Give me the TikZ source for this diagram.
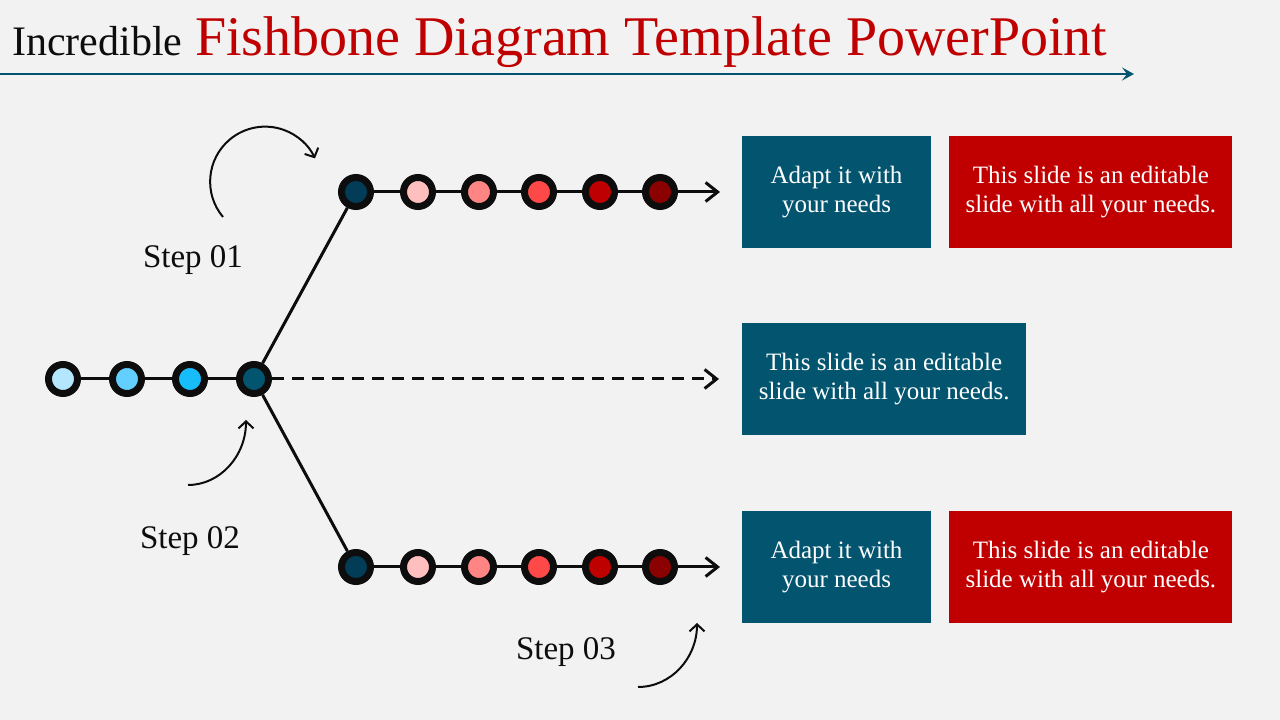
\documentclass[tikz,border=0pt]{standalone}
\usepackage{fontspec}
\setmainfont{Liberation Serif}
\usetikzlibrary{arrows.meta,positioning}

\definecolor{slidebg}{HTML}{F2F2F2}
\definecolor{inkblack}{HTML}{0D0D0D}
\definecolor{deepblue}{HTML}{02546F}
\definecolor{nightblue}{HTML}{023C57}
\definecolor{skyone}{HTML}{B4E6FD}
\definecolor{skytwo}{HTML}{63CFFF}
\definecolor{skythree}{HTML}{17BDFB}
\definecolor{slidered}{HTML}{C00000}
\definecolor{redone}{HTML}{FFBFBF}
\definecolor{redtwo}{HTML}{FF8585}
\definecolor{redthree}{HTML}{FF4848}
\definecolor{redfour}{HTML}{BF0000}
\definecolor{redfive}{HTML}{8B0000}

\begin{document}
\begin{tikzpicture}[x=1pt, y=1pt,
  bead/.style={circle, draw=inkblack, line width=7pt, minimum size=29pt, inner sep=0pt, fill=#1},
  bone/.style={inkblack, line width=3pt},
  boneend/.style={bone, -{Straight Barb[length=12pt,width=19pt]}},
  card/.style={fill=#1, text=white, align=center, minimum height=112pt, inner sep=0pt, font=\fontsize{25}{29}\selectfont},
  steplabel/.style={text=inkblack, font=\fontsize{33}{38}\selectfont},
  turn/.style={inkblack, line width=2pt, -{Straight Barb[length=7pt,width=15pt]}}]
  \useasboundingbox (0,0) rectangle (1280,720);
  \fill[slidebg] (0,0) rectangle (1280,720);

  % Title with underline arrow
  \node[anchor=base west, inner sep=0pt, font=\fontsize{42}{48}\selectfont, text=inkblack] (head) at (12,664) {Incredible};
  \node[anchor=base west, inner sep=0pt, font=\fontsize{56}{60}\selectfont, text=slidered] (title) at (195,664) {Fishbone Diagram Template PowerPoint};
  \coordinate (rulestart) at (0,646);
  \coordinate (ruleend) at (1134,646);
  \draw[deepblue, line width=2.5pt, -{Stealth[length=12pt,width=13pt,inset=5pt]}] (rulestart) -- (ruleend);

  % Spine: four beads on the left
  \node[bead=skyone] (l1) at (63,341) {};
  \node[bead=skytwo] (l2) at (127,341) {};
  \node[bead=skythree] (l3) at (190,341) {};
  \node[bead=deepblue] (l4) at (254,341) {};

  % Upper bone
  \node[bead=nightblue] (t1) at (356,528) {};
  \node[bead=redone] (t2) at (418,528) {};
  \node[bead=redtwo] (t3) at (479,528) {};
  \node[bead=redthree] (t4) at (539,528) {};
  \node[bead=redfour] (t5) at (600,528) {};
  \node[bead=redfive] (t6) at (660,528) {};
  \coordinate (tend) at (720,528);

  % Lower bone
  \node[bead=nightblue] (b1) at (356,153) {};
  \node[bead=redone] (b2) at (418,153) {};
  \node[bead=redtwo] (b3) at (479,153) {};
  \node[bead=redthree] (b4) at (539,153) {};
  \node[bead=redfour] (b5) at (600,153) {};
  \node[bead=redfive] (b6) at (660,153) {};
  \coordinate (bend) at (720,153);

  \coordinate (mend) at (719,341);

  % Connectors between beads
  \draw[bone] (l1) -- (l2) (l2) -- (l3) (l3) -- (l4);
  \draw[bone] (l4) -- (t1);
  \draw[bone] (l4) -- (b1);
  \draw[bone] (t1) -- (t2) (t2) -- (t3) (t3) -- (t4) (t4) -- (t5) (t5) -- (t6);
  \draw[boneend] (t6) -- (tend);
  \draw[bone] (b1) -- (b2) (b2) -- (b3) (b3) -- (b4) (b4) -- (b5) (b5) -- (b6);
  \draw[boneend] (b6) -- (bend);
  \draw[boneend, dash pattern=on 12pt off 8pt] (l4) -- (mend);

  % Text cards
  \node[card=deepblue, minimum width=189pt] (a1) at (836.5,528) {Adapt it with\\your needs};
  \node[card=slidered, minimum width=283pt, right=18pt of a1] (a2) {This slide is an editable\\slide with all your needs.};
  \node[card=deepblue, minimum width=284pt, anchor=west] (m1) at (742,341) {This slide is an editable\\slide with all your needs.};
  \node[card=deepblue, minimum width=189pt] (c1) at (836.5,153) {Adapt it with\\your needs};
  \node[card=slidered, minimum width=283pt, right=18pt of c1] (c2) {This slide is an editable\\slide with all your needs.};

  % Step labels and their curved arrows
  \node[steplabel] (s1) at (193,460) {Step 01};
  \node[steplabel] (s2) at (190,179) {Step 02};
  \node[steplabel] (s3) at (566,68) {Step 03};
  \coordinate (s1from) at (223,503);
  \draw[turn] (s1from) arc[start angle=220, end angle=25, radius=55];
  \coordinate (s2from) at (188,235);
  \coordinate (s2to) at (246,300);
  \draw[turn] (s2from) .. controls (220,235) and (246,264) .. (s2to);
  \coordinate (s3from) at (638,33);
  \coordinate (s3to) at (697,97);
  \draw[turn] (s3from) .. controls (671,33) and (697,62) .. (s3to);
\end{tikzpicture}
\end{document}
